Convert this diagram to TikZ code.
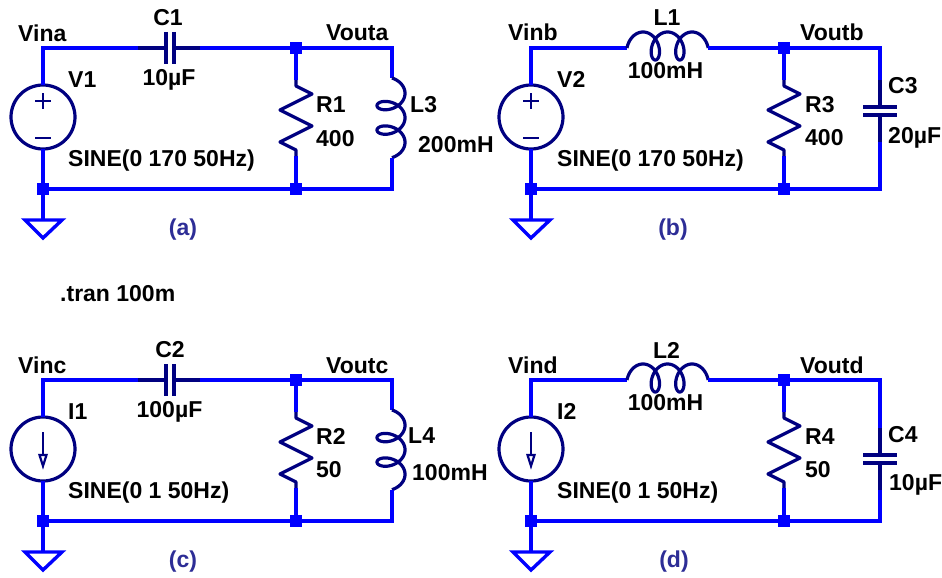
\documentclass[tikz,border=0pt]{standalone}
\usepackage{fontspec}
\setmainfont{Liberation Sans}
\definecolor{wireblue}{RGB}{0,0,255}
\definecolor{compnavy}{RGB}{0,0,128}
\definecolor{notecol}{RGB}{45,45,150}
\tikzset{
  wire/.style={draw=wireblue, line width=3.4pt, line join=miter},
  comp/.style={draw=compnavy, line width=3.2pt, line join=round},
  plate/.style={draw=compnavy, line width=4pt},
  junc/.style={rectangle, fill=wireblue, minimum size=12.5pt, inner sep=0pt},
  srccirc/.style={circle, draw=compnavy, line width=3.2pt, minimum size=64pt, inner sep=0pt},
  lbl/.style={inner sep=0pt, font=\fontsize{23pt}{27pt}\selectfont\bfseries, text=black},
  note/.style={lbl, text=notecol},
}
% vertical inductor: x of wire, y of top end (humps to the right)
\newcommand{\vind}[2]{\draw[comp] plot[domain=-86:806, samples=240]
  ({#1-1+14*cos(\x)}, {#2+15.33+3.9*\x/57.29578+9.5*sin(\x)});}
% horizontal inductor: x of left end, y of wire (humps upwards)
\newcommand{\hind}[2]{\draw[comp] plot[domain=-98.2:818.2, samples=240]
  ({#1+16.08+3.9*\x/57.29578+9.5*sin(\x)}, {#2-2-14*cos(\x)});}
% common left part and resistor of each circuit
\newcommand{\commonparts}[1]{%
  \coordinate (#1tl) at (43,48);
  \coordinate (#1bl) at (43,189);
  \coordinate (#1tm) at (296,48);
  \coordinate (#1bm) at (296,189);
  \coordinate (#1tr) at (392,48);
  \coordinate (#1br) at (392,189);
  \coordinate (#1srctop) at (43,85);
  \coordinate (#1srcbot) at (43,149);
  \coordinate (#1gnd) at (43,220);
  \coordinate (#1rtop) at (296,80);
  \coordinate (#1rbot) at (296,156);
  \node[srccirc] (#1src) at (43,117) {};
  \draw[wire] (#1bl) -- (#1gnd);
  \draw[wire] (25,220) -- (62,220) -- (43,238) -- cycle;
  \draw[wire] (#1tm) -- (#1rtop);
  \draw[wire] (#1rbot) -- (#1bm);
  \draw[comp] (#1rtop) -- (296,86) -- (312,94) -- (280,110) -- (312,126) -- (280,142) -- (296,150) -- (#1rbot);
}
\newcommand{\juncs}[1]{%
  \node[junc] (#1j1) at (#1bl) {};
  \node[junc] (#1j2) at (#1tm) {};
  \node[junc] (#1j3) at (#1bm) {};
}
\newcommand{\vsrc}{%
  \draw[comp, line width=2.6pt] (35,101) -- (51,101) (43,93) -- (43,109);
  \draw[comp, line width=2.6pt] (35,138) -- (51,138);
}
\newcommand{\isrc}{%
  \draw[comp, line width=2.6pt] (43,100) -- (43,124);
  \draw[comp, line width=2.2pt, line join=miter] (39.5,123) -- (46.5,123) -- (43,134) -- cycle;
}
\begin{document}
\begin{tikzpicture}[x=1pt,y=-1pt]
\useasboundingbox (0,0) rectangle (942,578);

% ---------------- (a)
\begin{scope}
  \commonparts{a}
  \vsrc
  \coordinate (acl) at (138,48);
  \coordinate (acr) at (200,48);
  \coordinate (alt) at (392,78);
  \coordinate (alb) at (392,158);
  \draw[wire] (asrctop) -- (atl) -- (acl);
  \draw[comp] (acl) -- (166,48);
  \draw[comp] (174,48) -- (acr);
  \draw[plate] (166,32) -- (166,64);
  \draw[plate] (174,32) -- (174,64);
  \draw[wire] (acr) -- (atr) -- (alt);
  \vind{392}{78}
  \draw[wire] (alb) -- (abr) -- (abl) -- (asrcbot);
  \juncs{a}
  \node[lbl, anchor=base west] (aVin) at (18,42) {Vina};
  \node[lbl, anchor=base] (aC) at (168,26) {C1};
  \node[lbl, anchor=base] (aCv) at (169,85) {10µF};
  \node[lbl, anchor=base west] (aV) at (68,87) {V1};
  \node[lbl, anchor=base west] (aS) at (68,166) {SINE(0 170 50Hz)};
  \node[lbl, anchor=base west] (aVo) at (326,41) {Vouta};
  \node[lbl, anchor=base west] (aR) at (316,112) {R1};
  \node[lbl, anchor=base west] (aRv) at (316,146) {400};
  \node[lbl, anchor=base west] (aL) at (410,112) {L3};
  \node[lbl, anchor=base west] (aLv) at (418,152) {200mH};
  \node[note, anchor=base] (acap) at (183,235) {(a)};
\end{scope}

% ---------------- (b)
\begin{scope}[shift={(488,0)}]
  \commonparts{b}
  \vsrc
  \coordinate (bll) at (139,48);
  \coordinate (blr) at (220,48);
  \coordinate (bct) at (392,80);
  \coordinate (bcb) at (392,142);
  \draw[wire] (bsrctop) -- (btl) -- (bll);
  \hind{139}{48}
  \draw[wire] (blr) -- (btr) -- (bct);
  \draw[comp] (bct) -- (392,107);
  \draw[comp] (392,115) -- (bcb);
  \draw[plate] (375,107) -- (409,107);
  \draw[plate] (375,115) -- (409,115);
  \draw[wire] (bcb) -- (bbr) -- (bbl) -- (bsrcbot);
  \juncs{b}
  \node[lbl, anchor=base west] (bVin) at (20,41) {Vinb};
  \node[lbl, anchor=base] (bL) at (179,26) {L1};
  \node[lbl, anchor=base] (bLv) at (177.5,78) {100mH};
  \node[lbl, anchor=base west] (bV) at (69,87) {V2};
  \node[lbl, anchor=base west] (bS) at (69,166) {SINE(0 170 50Hz)};
  \node[lbl, anchor=base west] (bVo) at (312,41) {Voutb};
  \node[lbl, anchor=base west] (bR) at (317,112) {R3};
  \node[lbl, anchor=base west] (bRv) at (317,145) {400};
  \node[lbl, anchor=base west] (bC) at (400,93) {C3};
  \node[lbl, anchor=base west] (bCv) at (400,143) {20µF};
  \node[note, anchor=base] (bcap) at (185,235) {(b)};
\end{scope}

% ---------------- .tran
\node[lbl, anchor=base west] (tran) at (60,301) {.tran 100m};

% ---------------- (c)
\begin{scope}[shift={(0,332)}]
  \commonparts{c}
  \isrc
  \coordinate (ccl) at (138,48);
  \coordinate (ccr) at (200,48);
  \coordinate (clt) at (392,78);
  \coordinate (clb) at (392,158);
  \draw[wire] (csrctop) -- (ctl) -- (ccl);
  \draw[comp] (ccl) -- (166,48);
  \draw[comp] (174,48) -- (ccr);
  \draw[plate] (166,32) -- (166,64);
  \draw[plate] (174,32) -- (174,64);
  \draw[wire] (ccr) -- (ctr) -- (clt);
  \vind{392}{78}
  \draw[wire] (clb) -- (cbr) -- (cbl) -- (csrcbot);
  \juncs{c}
  \node[lbl, anchor=base west] (cVin) at (18,41) {Vinc};
  \node[lbl, anchor=base] (cC) at (170,25) {C2};
  \node[lbl, anchor=base] (cCv) at (169.5,85) {100µF};
  \node[lbl, anchor=base west] (cI) at (68,87) {I1};
  \node[lbl, anchor=base west] (cS) at (68,166) {SINE(0 1 50Hz)};
  \node[lbl, anchor=base west] (cVo) at (326,41) {Voutc};
  \node[lbl, anchor=base west] (cR) at (316,112) {R2};
  \node[lbl, anchor=base west] (cRv) at (316,145) {50};
  \node[lbl, anchor=base west] (cL) at (408,111) {L4};
  \node[lbl, anchor=base west] (cLv) at (412,148) {100mH};
  \node[note, anchor=base] (ccap) at (183,235) {(c)};
\end{scope}

% ---------------- (d)
\begin{scope}[shift={(488,332)}]
  \commonparts{d}
  \isrc
  \coordinate (dll) at (139,48);
  \coordinate (dlr) at (220,48);
  \coordinate (dct) at (392,96);
  \coordinate (dcb) at (392,158);
  \draw[wire] (dsrctop) -- (dtl) -- (dll);
  \hind{139}{48}
  \draw[wire] (dlr) -- (dtr) -- (dct);
  \draw[comp] (dct) -- (392,123);
  \draw[comp] (392,131) -- (dcb);
  \draw[plate] (375,123) -- (409,123);
  \draw[plate] (375,131) -- (409,131);
  \draw[wire] (dcb) -- (dbr) -- (dbl) -- (dsrcbot);
  \juncs{d}
  \node[lbl, anchor=base west] (dVin) at (20,41) {Vind};
  \node[lbl, anchor=base] (dL) at (178.5,26) {L2};
  \node[lbl, anchor=base] (dLv) at (177.5,78) {100mH};
  \node[lbl, anchor=base west] (dI) at (69,87) {I2};
  \node[lbl, anchor=base west] (dS) at (69,166) {SINE(0 1 50Hz)};
  \node[lbl, anchor=base west] (dVo) at (312,41) {Voutd};
  \node[lbl, anchor=base west] (dR) at (317,112) {R4};
  \node[lbl, anchor=base west] (dRv) at (317,145) {50};
  \node[lbl, anchor=base west] (dC) at (400,110) {C4};
  \node[lbl, anchor=base west] (dCv) at (401,158) {10µF};
  \node[note, anchor=base] (dcap) at (186,235) {(d)};
\end{scope}
\end{tikzpicture}
\end{document}
